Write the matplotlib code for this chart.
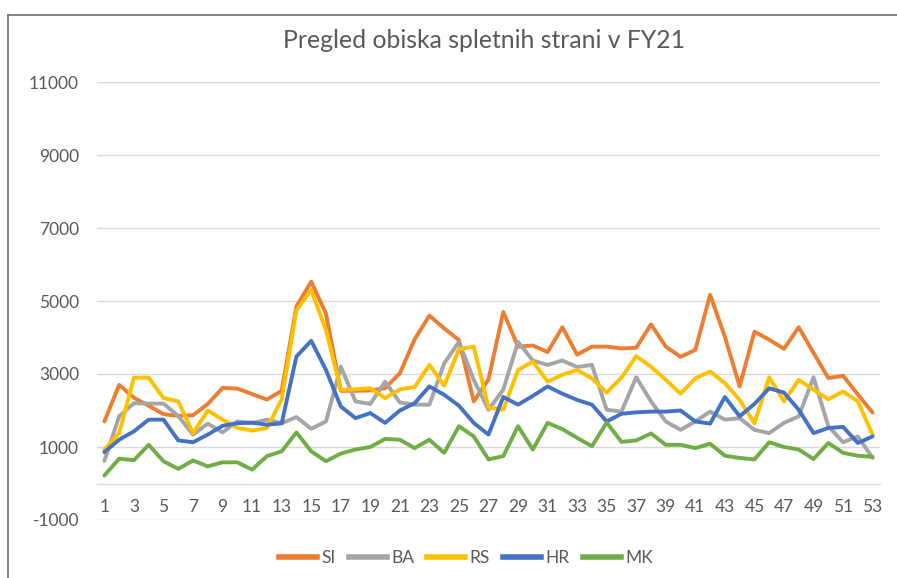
import matplotlib
matplotlib.use("Agg")
import matplotlib.pyplot as plt
from matplotlib.lines import Line2D

plt.rcParams['font.family'] = ['Lato', 'DejaVu Sans']

weeks = list(range(1, 54))

SI = [1700, 2700, 2350, 2130, 1900, 1850, 1870, 2180, 2620, 2600,
      2450, 2300, 2540, 4850, 5530, 4650, 2540, 2540, 2550, 2610,
      3020, 3950, 4600, 4250, 3930, 2250, 2850, 4700, 3750, 3780,
      3600, 4280, 3530, 3750, 3750, 3700, 3720, 4360, 3750, 3470,
      3660, 5170, 4020, 2660, 4160, 3940, 3690, 4280, 3580, 2890,
      2950, 2440, 1940]
BA = [620, 1840, 2200, 2190, 2190, 1850, 1340, 1640, 1400, 1700,
      1650, 1750, 1650, 1820, 1500, 1700, 3200, 2250, 2180, 2790,
      2220, 2160, 2160, 3290, 3880, 2840, 2020, 2570, 3880, 3370,
      3250, 3370, 3190, 3250, 2020, 1970, 2910, 2250, 1700, 1470,
      1700, 1970, 1750, 1790, 1470, 1380, 1660, 1840, 2910, 1570,
      1130, 1290, 700]
RS = [930, 1380, 2900, 2900, 2340, 2250, 1380, 2000, 1750, 1520,
      1450, 1520, 2300, 4750, 5300, 4200, 2570, 2580, 2610, 2340,
      2580, 2640, 3250, 2680, 3680, 3750, 2080, 2020, 3110, 3340,
      2790, 2980, 3110, 2880, 2490, 2900, 3490, 3200, 2840, 2460,
      2880, 3070, 2750, 2290, 1650, 2910, 2250, 2840, 2570, 2310,
      2520, 2250, 1340]
HR = [860, 1200, 1430, 1750, 1750, 1180, 1130, 1340, 1580, 1650,
      1670, 1610, 1650, 3480, 3910, 3110, 2110, 1790, 1930, 1660,
      2000, 2200, 2660, 2430, 2130, 1660, 1340, 2370, 2160, 2400,
      2660, 2460, 2290, 2160, 1700, 1910, 1950, 1970, 1970, 2000,
      1700, 1640, 2370, 1840, 2180, 2610, 2490, 2020, 1380, 1520,
      1550, 1110, 1290]
MK = [220, 680, 640, 1060, 610, 400, 630, 470, 580, 580,
      380, 750, 880, 1400, 880, 610, 820, 930, 1000, 1220,
      1200, 970, 1200, 840, 1570, 1290, 660, 750, 1570, 930,
      1660, 1490, 1250, 1020, 1670, 1140, 1180, 1370, 1060, 1060,
      970, 1090, 760, 700, 660, 1130, 1000, 930, 670, 1110,
      840, 760, 730]

series_names = ['SI', 'BA', 'RS', 'HR', 'MK']
series_values = [SI, BA, RS, HR, MK]
colors = ['#ED7D31', '#A5A5A5', '#FFC000', '#4472C4', '#70AD47']

title = 'Pregled obiska spletnih strani v FY21'
ytick_values = [-1000, 1000, 3000, 5000, 7000, 9000, 11000]
xtick_values = list(range(1, 54, 2))

W, H = 897, 578
fig = plt.figure(figsize=(W / 100, H / 100), dpi=100)
ax = fig.add_axes([97 / W, (H - 520) / H, (880 - 97) / W, (520 - 82) / H])

for name, vals, c in zip(series_names, series_values, colors):
    ax.plot(weeks, vals, color=c, linewidth=2.8, label=name,
            solid_joinstyle='round', solid_capstyle='round', zorder=3)

ax.set_xlim(0.5, 53.5)
ax.set_ylim(-1000, 11000)
ax.set_yticks(ytick_values)
ax.set_yticklabels([str(v) for v in ytick_values])
ax.set_xticks(xtick_values)
ax.set_xticklabels([str(v) for v in xtick_values])

ax.grid(axis='y', color='#D9D9D9', linewidth=1.0, zorder=0)
ax.grid(axis='x', visible=False)
for s in ['top', 'right', 'left']:
    ax.spines[s].set_visible(False)
ax.spines['bottom'].set_position(('data', 0))
ax.spines['bottom'].set_color('#D9D9D9')
ax.spines['bottom'].set_linewidth(1.0)
ax.spines['bottom'].set_zorder(0)

ax.tick_params(axis='y', length=0, pad=13, labelsize=12.5, labelcolor='#595959')
ax.tick_params(axis='x', length=0, pad=11, labelsize=12.5, labelcolor='#595959')

fig.text(484 / W, 1 - 41 / H, title, ha='center', va='center',
         fontsize=17.8, color='#595959')

handles = [Line2D([0], [0], color=c, linewidth=4) for c in colors]
fig.legend(handles, series_names, loc='center', bbox_to_anchor=(466 / W, 1 - 558 / H),
           ncol=5, frameon=False, fontsize=12.5, handlelength=2.2,
           handletextpad=0.25, columnspacing=0.75, labelcolor='#595959')

# chart frame (left and top edges)
fig.add_artist(Line2D([8 / W, 8 / W], [0, 1 - 15 / H], transform=fig.transFigure,
                      color='#6F6F6F', linewidth=1.2))
fig.add_artist(Line2D([8 / W, 1], [1 - 15 / H, 1 - 15 / H], transform=fig.transFigure,
                      color='#6F6F6F', linewidth=1.2))

fig.savefig('out.png', dpi=100)
